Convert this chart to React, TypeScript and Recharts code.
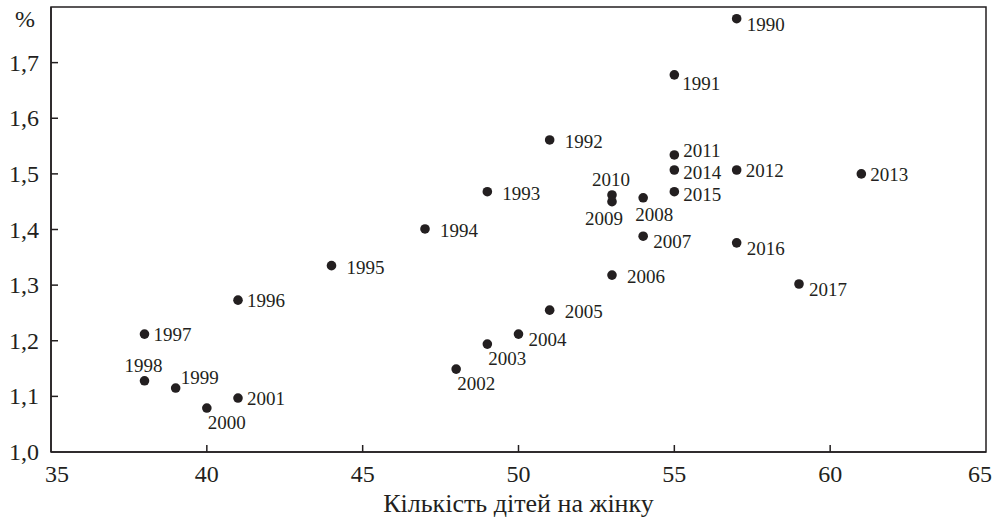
import React from 'react'
import {
  ScatterChart,
  Scatter,
  XAxis,
  YAxis,
  ReferenceArea,
} from 'recharts'

const years = [
  1990, 1991, 1992, 1993, 1994, 1995, 1996, 1997, 1998, 1999, 2000, 2001, 2002, 2003,
  2004, 2005, 2006, 2007, 2008, 2009, 2010, 2011, 2012, 2013, 2014, 2015, 2016, 2017,
]

// кількість дітей на жінку
const children = [
  57, 55, 51, 49, 47, 44, 41, 38, 38, 39, 40, 41, 48, 49,
  50, 51, 53, 54, 54, 53, 53, 55, 57, 61, 55, 55, 57, 59,
]

// %
const rates = [
  1.779, 1.678, 1.561, 1.468, 1.401, 1.335, 1.273, 1.212, 1.128, 1.115, 1.079, 1.097, 1.149, 1.194,
  1.212, 1.255, 1.318, 1.388, 1.457, 1.45, 1.462, 1.534, 1.507, 1.5, 1.507, 1.468, 1.376, 1.302,
]

const labelPlace = [
  'rightLow', 'rightLower', 'far', 'far', 'far', 'far', 'right', 'right', 'above', 'rightHigh',
  'below', 'right', 'below', 'below', 'rightLow', 'far', 'far', 'rightLow', 'belowRight',
  'belowLeft', 'above', 'rightUp', 'right', 'right', 'rightDown', 'rightDown', 'rightLow', 'rightLow',
]

const xTicks = [35, 40, 45, 50, 55, 60, 65]
const yTicks = [1.0, 1.1, 1.2, 1.3, 1.4, 1.5, 1.6, 1.7]

const INK = '#231f20'
const FONT = '"Liberation Serif", "DejaVu Serif", serif'

const placements: Record<string, { dx: number; dy: number; anchor: 'start' | 'middle' }> = {
  right: { dx: 9, dy: 7, anchor: 'start' },
  rightUp: { dx: 9, dy: 2, anchor: 'start' },
  rightDown: { dx: 9, dy: 9, anchor: 'start' },
  rightHigh: { dx: 5, dy: -4, anchor: 'start' },
  rightLow: { dx: 10, dy: 12, anchor: 'start' },
  rightLower: { dx: 8, dy: 15, anchor: 'start' },
  far: { dx: 15, dy: 8, anchor: 'start' },
  above: { dx: -1, dy: -9, anchor: 'middle' },
  below: { dx: 1, dy: 21, anchor: 'start' },
  belowRight: { dx: 11, dy: 23, anchor: 'middle' },
  belowLeft: { dx: -8, dy: 23, anchor: 'middle' },
}

const points = years.map((year, i) => ({
  year,
  kids: children[i],
  rate: rates[i],
  place: labelPlace[i],
}))

const fmt = (v: number) => v.toFixed(1).replace('.', ',')

function XTick(props: any) {
  const { x, y, payload } = props
  const v = payload.value
  const isFirst = v === xTicks[0]
  const isLast = v === xTicks[xTicks.length - 1]
  return (
    <g>
      {!isFirst && !isLast && (
        <line x1={x} x2={x} y1={y} y2={y - 7} stroke={INK} strokeWidth={1.5} />
      )}
      <text
        x={isFirst ? x - 6 : isLast ? x + 6 : x}
        y={y + 30}
        textAnchor={isFirst ? 'start' : isLast ? 'end' : 'middle'}
        fill={INK}
        fontSize={24}
        fontFamily={FONT}
      >
        {v}
      </text>
    </g>
  )
}

function YTick(props: any) {
  const { x, y, payload } = props
  const v = payload.value
  return (
    <g>
      {v !== yTicks[0] && (
        <line x1={x} x2={x + 7} y1={y} y2={y} stroke={INK} strokeWidth={1.5} />
      )}
      <text x={x - 12} y={y + 8} textAnchor="end" fill={INK} fontSize={24} fontFamily={FONT}>
        {fmt(v)}
      </text>
    </g>
  )
}

function Dot(props: any) {
  const { cx, cy, payload } = props
  const p = placements[payload.place] ?? placements.right
  return (
    <g>
      <circle cx={cx} cy={cy} r={4.8} fill={INK} />
      <text
        x={cx + p.dx}
        y={cy + p.dy}
        textAnchor={p.anchor}
        fill={INK}
        fontSize={19}
        fontFamily={FONT}
      >
        {payload.year}
      </text>
    </g>
  )
}

export default function App() {
  return (
    <div style={{ position: 'absolute', left: 0, top: 0, background: '#fff' }}>
      <ScatterChart
        width={995}
        height={521}
        margin={{ top: 7, right: 9, bottom: 0, left: 0 }}
      >
        <ReferenceArea
          x1={35}
          x2={65}
          y1={1.0}
          y2={1.8}
          fill="none"
          stroke={INK}
          strokeWidth={1.5}
          ifOverflow="visible"
        />
        <XAxis
          type="number"
          dataKey="kids"
          domain={[35, 65]}
          ticks={xTicks}
          allowDataOverflow
          height={69}
          tickLine={false}
          tickSize={0}
          tickMargin={0}
          stroke={INK}
          strokeWidth={1.5}
          tick={<XTick />}
          label={{
            value: 'Кількість дітей на жінку',
            position: 'insideBottom',
            offset: 9,
            fill: INK,
            fontSize: 26,
            fontFamily: FONT,
          }}
        />
        <YAxis
          type="number"
          dataKey="rate"
          domain={[1.0, 1.8]}
          ticks={yTicks}
          allowDataOverflow
          width={51}
          tickLine={false}
          tickSize={0}
          tickMargin={0}
          stroke={INK}
          strokeWidth={1.5}
          tick={<YTick />}
          label={{
            content: (lp: any) => {
              const vb = lp.viewBox ?? { x: 0, y: 7, width: 51 }
              return (
                <text
                  x={vb.x + vb.width - 16}
                  y={vb.y + 20}
                  textAnchor="end"
                  fill={INK}
                  fontSize={24}
                  fontFamily={FONT}
                >
                  %
                </text>
              )
            },
          }}
        />
        <Scatter data={points} shape={<Dot />} isAnimationActive={false} />
      </ScatterChart>
    </div>
  )
}
